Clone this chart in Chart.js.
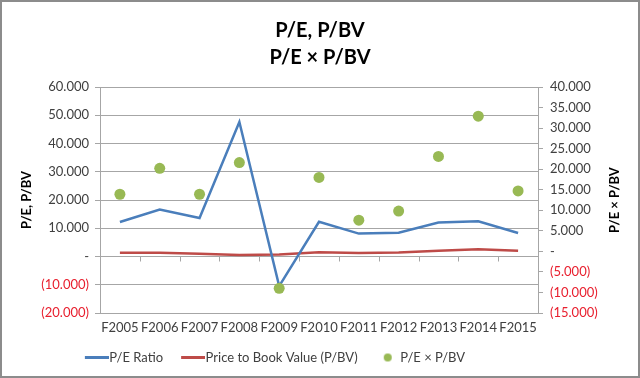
<!DOCTYPE html>
<html><head><meta charset="utf-8">
<script src="https://cdn.jsdelivr.net/npm/chart.js@4"></script>
<style>html,body{margin:0;padding:0;background:#fff;overflow:hidden}canvas{display:block}</style>
</head><body>
<canvas id="c" width="640" height="378"></canvas>
<script>
const categories = ['F2005','F2006','F2007','F2008','F2009','F2010','F2011','F2012','F2013','F2014','F2015'];
const peRatio = [12.2, 16.6, 13.6, 47.6, -10.5, 12.3, 8.1, 8.4, 12.0, 12.5, 8.3];
const priceToBook = [1.3, 1.3, 1.0, 0.5, 0.7, 1.5, 1.2, 1.4, 2.0, 2.6, 2.0];
const peTimesPbv = [13.9, 20.2, 13.9, 21.6, -9.0, 18.0, 7.6, 9.8, 23.1, 32.9, 14.7];
const leftTickValues = [-20, -10, 0, 10, 20, 30, 40, 50, 60];
const rightTickValues = [-15, -10, -5, 0, 5, 10, 15, 20, 25, 30, 35, 40];
const seriesNames = ['P/E Ratio', 'Price to Book Value (P/BV)', 'P/E \u00d7 P/BV'];
const titleLines = ['P/E, P/BV', 'P/E \u00d7 P/BV'];
const leftAxisTitle = 'P/E, P/BV';
const rightAxisTitle = 'P/E \u00d7 P/BV';

const BLUE = '#4A7EBB', RED = '#BE4B48', GREEN = '#98B954';
const GRID = '#A6A6A6';
const FONT = 'Lato';

function fmt(v){
  if (v === 0) return '-';
  const s = Math.abs(v).toFixed(3);
  return v < 0 ? '(' + s + ')' : s;
}
function lineIcon(color){
  const c = document.createElement('canvas'); c.width = 36; c.height = 3;
  const g = c.getContext('2d'); g.fillStyle = color; g.fillRect(12, 0, 24, 3); return c;
}
function dotIcon(color){
  const c = document.createElement('canvas'); c.width = 36; c.height = 10;
  const g = c.getContext('2d'); g.fillStyle = color; g.beginPath(); g.arc(24, 5, 4, 0, Math.PI*2); g.fill(); return c;
}
const legendIcons = [lineIcon(BLUE), lineIcon(RED), dotIcon(GREEN)];

Chart.defaults.font.family = FONT;
Chart.defaults.font.size = 13;
Chart.defaults.color = '#404040';

const decor = {
  id: 'decor',
  beforeDraw(chart){
    const g = chart.ctx; g.save(); g.fillStyle = '#fff'; g.fillRect(0,0,chart.width,chart.height); g.restore();
    const L = chart.legend;
    if (L) { L.right = L.left + L.width - 96; }
  },
  beforeDatasetsDraw(chart){
    const g = chart.ctx, x = chart.scales.x, y = chart.scales.y;
    const y0 = y.getPixelForValue(0);
    const w = (x.right - x.left) / categories.length;
    g.save(); g.strokeStyle = GRID; g.lineWidth = 1;
    g.beginPath();
    for (let k = 1; k < categories.length; k++){
      const px = Math.round(x.left + w*k) + 0.5;
      g.moveTo(px, y0); g.lineTo(px, y0 + 5);
    }
    g.stroke(); g.restore();
  },
  afterDraw(chart){
    const g = chart.ctx, a = chart.chartArea;
    g.save();
    g.font = 'bold 13px ' + FONT; g.fillStyle = '#000'; g.textAlign = 'center'; g.textBaseline = 'middle';
    g.translate(615, (a.top + a.bottom)/2); g.rotate(-Math.PI/2); g.fillText(rightAxisTitle, 0, 0);
    g.restore();
    g.save(); g.strokeStyle = '#8C8C8C'; g.lineWidth = 2; g.strokeRect(1,1,chart.width-2,chart.height-2); g.restore();
  }
};

new Chart(document.getElementById('c'), {
  type: 'line',
  data: {
    labels: categories,
    datasets: [
      {label: seriesNames[0], data: peRatio, borderColor: BLUE, backgroundColor: BLUE, borderWidth: 2.5, pointRadius: 0, yAxisID: 'y', tension: 0, order: 2},
      {label: seriesNames[1], data: priceToBook, borderColor: RED, backgroundColor: RED, borderWidth: 2.5, pointRadius: 0, yAxisID: 'y', tension: 0, order: 3},
      {label: seriesNames[2], data: peTimesPbv, showLine: false, borderColor: GREEN, backgroundColor: GREEN, pointRadius: 5.5, pointHoverRadius: 5.5, pointBorderWidth: 0, yAxisID: 'y2', order: 1}
    ]
  },
  options: {
    responsive: false, animation: false, devicePixelRatio: 1,
    layout: {padding: {left: 0, right: 0, top: 0, bottom: 4}},
    plugins: {
      tooltip: {enabled: false},
      title: {display: true, text: titleLines, color: '#000', font: {size: 20, weight: 'bold', lineHeight: 1.35}, padding: {top: 17, bottom: 16}},
      legend: {
        position: 'bottom',
        labels: {
          usePointStyle: true, pointStyleWidth: 24, padding: 12, color: '#404040', font: {size: 13},
          generateLabels(chart){
            const items = Chart.defaults.plugins.legend.labels.generateLabels(chart);
            items.sort((a, b) => a.datasetIndex - b.datasetIndex);
            items.forEach(it => { it.pointStyle = legendIcons[it.datasetIndex]; it.lineWidth = 0; });
            return items;
          }
        }
      }
    },
    scales: {
      x: {
        offset: true,
        grid: {display: false, drawTicks: false},
        border: {display: false},
        ticks: {padding: 7, maxRotation: 0, autoSkip: false, color: '#404040', font: {size: 13}},
        afterFit(s){ s.height = 26; }
      },
      y: {
        position: 'left', min: -20, max: 60,
        afterBuildTicks(s){ s.ticks = leftTickValues.map(v => ({value: v})); },
        grid: {color: GRID, tickLength: 5, lineWidth: 1},
        border: {color: GRID},
        ticks: {padding: 6, callback: v => fmt(v), color: c => (c.tick && c.tick.value < 0) ? '#E8202F' : '#404040', font: {size: 13}},
        title: {display: true, text: leftAxisTitle, color: '#000', font: {size: 13, weight: 'bold'}, padding: {top: 19, bottom: 0}},
        afterFit(s){ s.width = 100; }
      },
      y2: {
        position: 'right', min: -15, max: 40,
        afterBuildTicks(s){ s.ticks = rightTickValues.map(v => ({value: v})); },
        grid: {drawOnChartArea: false, color: GRID, tickLength: 5},
        border: {color: GRID},
        ticks: {padding: 7, callback: v => fmt(v), color: c => (c.tick && c.tick.value < 0) ? '#E8202F' : '#404040', font: {size: 13}},
        afterFit(s){ s.width = 102; }
      }
    }
  },
  plugins: [decor]
});
</script>
</body></html>
